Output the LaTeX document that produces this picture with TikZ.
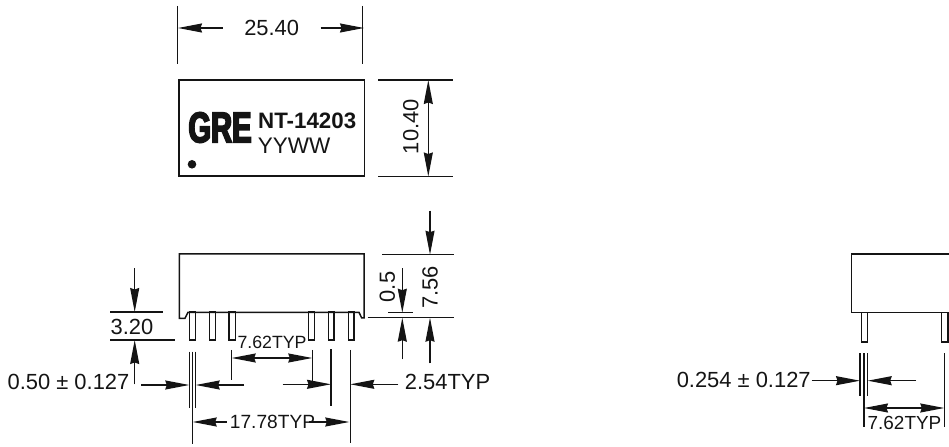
\documentclass[tikz,border=0pt]{standalone}
\usepackage{fontspec}
\setmainfont{Liberation Sans}
\newfontfamily\logofont[FakeStretch=0.68,FakeBold=4]{Liberation Sans Bold}
\usetikzlibrary{arrows.meta}
\definecolor{ink}{HTML}{141414}
\tikzset{
  tipstyle/.style={},
  thinline/.style={draw=ink,line width=1.25bp},
  bodyline/.style={draw=ink,line width=1.5bp},
  pinline/.style={draw=ink,line width=1.2bp,fill=white},
  dimarrow/.style={draw=ink,line width=1.25bp,-{Stealth[length=24bp,width=9bp,inset=1.5bp]}},
  dimboth/.style={draw=ink,line width=1.25bp,{Stealth[length=24bp,width=9bp,inset=1.5bp]}-{Stealth[length=24bp,width=9bp,inset=1.5bp]}},
  lab/.style={inner sep=0pt,text=ink,font=\fontsize{22}{22}\selectfont},
  smalllab/.style={inner sep=0pt,text=ink,font=\fontsize{17.8}{17.8}\selectfont},
  midlab/.style={inner sep=0pt,text=ink,font=\fontsize{19.2}{19.2}\selectfont}
}
\begin{document}
\begin{tikzpicture}[x=1bp,y=-1bp]
\useasboundingbox (0,0) rectangle (949,447);
\clip (0,0) rectangle (949,447);
% ---- top view
\draw[bodyline] (179,80) rectangle (364.3,176);
\fill[ink] (192,164.3) circle (4.3);
\node[inner sep=0pt,text=ink,font=\logofont\fontsize{43}{43}\selectfont] (logo) at (220,127.5) {GRE};
\node[inner sep=0pt,text=ink,font=\bfseries\fontsize{22.4}{22.4}\selectfont] (part) at (307.2,120.5) {NT-14203};
\node[inner sep=0pt,text=ink,font=\fontsize{22.6}{22.6}\selectfont] (code) at (294.2,145.5) {YYWW};
% 25.40
\draw[thinline] (177.3,6) -- (177.3,64);
\draw[thinline] (362.7,6) -- (362.7,64);
\draw[dimarrow] (222.7,28) -- (178,28);
\draw[dimarrow] (320.7,28) -- (364,28);
\node[lab] (w) at (271.7,28) {25.40};
% 10.40
\draw[thinline] (378.3,80) -- (452.7,80);
\draw[thinline] (378.3,176.5) -- (452.7,176.5);
\draw[dimboth] (428.3,80) -- (428.3,176.5);
\node[lab,rotate=90] (h) at (410.7,126.7) {10.40};
% ---- side view
\foreach \a/\b in {189.3/195.7,209.3/215.3,229/235.3,308.7/314.3,328.3/334,348.3/354}
  \draw[pinline] (\a,312) rectangle (\b,340);
\draw[bodyline] (185,318.3) -- (179.3,318.3) -- (179.3,254) -- (364,254) -- (364,318) -- (361.7,318) -- (359,312.3) -- (188,312.3) -- cycle;
% 3.20
\draw[thinline] (110,312) -- (162.7,312);
\draw[thinline] (110,340) -- (174.7,340);
\draw[dimarrow] (134.7,268.3) -- (134.7,312);
\draw[dimarrow] (134.7,384.3) -- (134.7,340);
\node[lab] (t) at (132,327) {3.20};
% 0.50
\node[lab] (pw) at (68.5,381.7) {0.50 ± 0.127};
\draw[thinline] (189.3,351.7) -- (189.3,407.7);
\draw[thinline] (195.7,351.7) -- (195.7,407.7);
\draw[thinline] (192.7,351.7) -- (192.7,444);
\draw[dimarrow] (141,385) -- (189.3,385);
\draw[dimarrow] (244,385) -- (195.7,385);
% 7.62 left view
\draw[thinline] (231.7,350) -- (231.7,380);
\draw[thinline] (312.3,350) -- (312.3,383);
\draw[dimboth] (231.7,358) -- (312.3,358);
\node[smalllab] (sp) at (272,342.7) {7.62TYP};
% 2.54
\draw[thinline] (331,349.3) -- (331,405.7);
\draw[thinline] (350.3,350) -- (350.3,443.3);
\draw[dimarrow] (282.7,384.3) -- (331,384.3);
\draw[dimarrow] (398.3,384.3) -- (350.3,384.3);
\node[lab] (pitch) at (447.5,381.5) {2.54TYP};
% 17.78
\draw[dimarrow] (226.7,422) -- (192.7,422);
\draw[dimarrow] (309,422) -- (349.3,422);
\node[midlab] (span) at (272.5,421.7) {17.78TYP};
% 7.56
\draw[thinline] (382.3,254.7) -- (454.3,254.7);
\draw[thinline] (367.7,317.7) -- (454.3,317.7);
\draw[dimarrow] (430,210.7) -- (430,254.7);
\draw[dimarrow] (430,363.3) -- (430,317.7);
\node[lab,rotate=90,fill=white,inner ysep=0pt] (ht) at (430,287.5) {7.56};
% 0.5
\draw[thinline] (388.3,312.7) -- (413.3,312.7);
\draw[dimarrow] (402.3,268.3) -- (402.3,312.7);
\draw[dimarrow] (402.3,359.3) -- (402.3,317.7);
\node[lab,rotate=90] (sd) at (387.3,287) {0.5};
% ---- end view
\foreach \a/\b in {861.7/867.7,941.7/948}
  \draw[pinline] (\a,312.7) rectangle (\b,342);
\draw[bodyline] (960,254.2) -- (851.7,254.2) -- (851.7,312.7) -- (960,312.7);
\draw[thinline] (860,353.3) -- (860,395.7);
\draw[thinline] (867.7,353.3) -- (867.7,395.7);
\draw[thinline] (864,353.3) -- (864,426.7);
\draw[thinline] (944.3,353.3) -- (944.3,426.7);
\draw[dimarrow] (811.7,380.7) -- (860,380.7);
\draw[dimarrow] (916,380.7) -- (867.7,380.7);
\draw[dimboth] (864,408) -- (944.3,408);
\node[inner sep=0pt,text=ink,font=\fontsize{19}{19}\selectfont] (esp) at (904.5,422.7) {7.62TYP};
\node[lab] (epw) at (743.7,380) {0.254 ± 0.127};
\end{tikzpicture}
\end{document}
